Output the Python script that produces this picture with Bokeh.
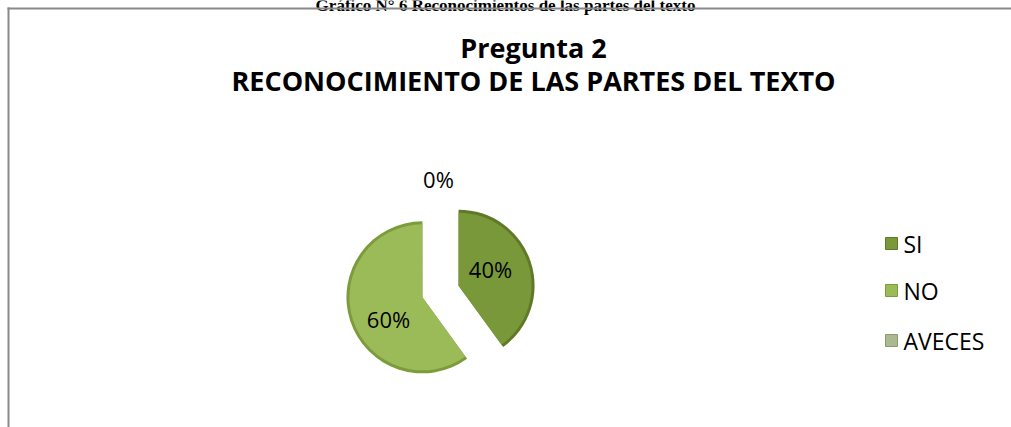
from bokeh.plotting import figure
from bokeh.models import Range1d
from bokeh.core.properties import value
from bokeh.embed import file_html
from bokeh.resources import INLINE
import math

# ---- data ----
categories = ["SI", "NO", "AVECES"]
percent = [40, 60, 0]
labels = ["40%", "60%", "0%"]
colors = ["#78983A", "#9BBB59", "#AAB98E"]
rims = ["#5E7A26", "#7C9C3C", "#8A9A70"]
caption = "Gráfico N° 6 Reconocimientos de las partes del texto"
title_lines = ["Pregunta 2", "RECONOCIMIENTO DE LAS PARTES DEL TEXTO"]

W, H = 1011, 427
p = figure(width=W, height=H, output_backend="svg", toolbar_location=None,
           x_range=Range1d(0, W), y_range=Range1d(0, H),
           min_border=0, outline_line_color=None)
p.axis.visible = False
p.grid.visible = False
p.background_fill_color = "white"
p.border_fill_color = "white"

def sy(y):  # page y (from top) -> data y
    return H - y

# document caption just above the chart (cut by the page top as in the source)
p.text(x=[505], y=[sy(5)], text=[caption], text_font=value("Liberation Serif"),
       text_font_style="bold", text_font_size="17px", text_align="center",
       text_baseline="alphabetic", text_color="black")

# chart border (top and left visible)
p.line([8, 8], [sy(7), 0], line_color="#898989", line_width=2)
p.line([7, W], [sy(8), sy(8)], line_color="#898989", line_width=2)

# title
p.text(x=[533, 533], y=[sy(47), sy(80)], text=title_lines,
       text_font=value("Open Sans"), text_font_style="bold",
       text_font_size="27px", text_align="center", text_baseline="middle",
       text_color="black")

# pie
cx, cy, r, explode = 440, sy(291), 76, 19
total = sum(percent)
start = 90.0
for i, v in enumerate(percent):
    sweep = 360.0 * v / total
    if sweep <= 0:
        continue
    end = start - sweep
    mid = math.radians((start + end) / 2)
    ox, oy = cx + explode * math.cos(mid), cy + explode * math.sin(mid)
    p.wedge(x=[ox], y=[oy], radius=r, start_angle=math.radians(start),
            end_angle=math.radians(end), direction="clock",
            fill_color=rims[i], line_color=None)
    p.wedge(x=[ox], y=[oy], radius=r - 3, start_angle=math.radians(start),
            end_angle=math.radians(end), direction="clock",
            fill_color=colors[i], line_color=None)
    start = end

# data labels
lx = [490, 388, 438]
ly = [sy(268), sy(318), sy(178)]
p.text(x=lx, y=ly, text=labels, text_font=value("Open Sans"),
       text_font_size="22px", text_align="center", text_baseline="middle",
       text_color="black")

# legend
leg_y = [sy(243), sy(290), sy(340)]
p.rect(x=[891] * 3, y=leg_y, width=12, height=12, fill_color=colors,
       line_color=rims, line_width=1)
p.text(x=[903] * 3, y=leg_y, text=categories, text_font=value("Open Sans"),
       text_font_size="23px", text_align="left", text_baseline="middle",
       text_color="black")

open("out.html", "w").write(file_html(p, INLINE))
